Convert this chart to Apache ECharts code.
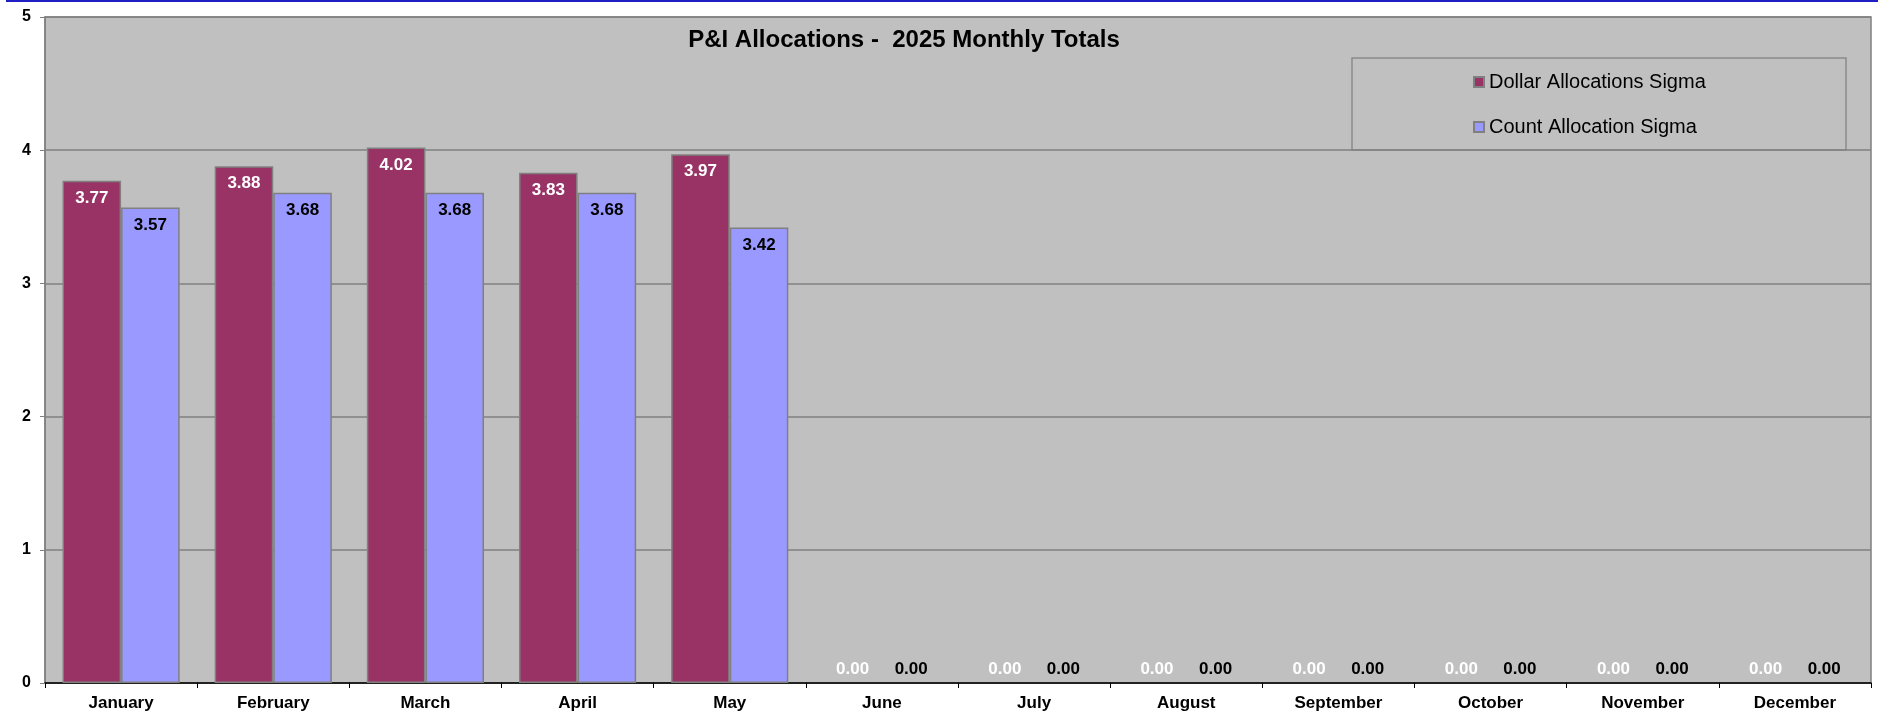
<!DOCTYPE html>
<html>
<head>
<meta charset="utf-8">
<style>
html,body{margin:0;padding:0;background:#fff;}
#chart{width:1878px;height:714px;}
</style>
<script src="https://cdn.jsdelivr.net/npm/echarts@6/dist/echarts.min.js"></script>
</head>
<body>
<div id="chart"></div>
<script>
const months = ['January','February','March','April','May','June','July','August','September','October','November','December'];
const dollarSigma = [3.77, 3.88, 4.02, 3.83, 3.97, 0, 0, 0, 0, 0, 0, 0];
const countSigma = [3.57, 3.68, 3.68, 3.68, 3.42, 0, 0, 0, 0, 0, 0, 0];
const yTicks = [0, 1, 2, 3, 4, 5];
const titleText = 'P&I Allocations -  2025 Monthly Totals';
const seriesNames = ['Dollar Allocations Sigma', 'Count Allocation Sigma'];

const FONT = '"Liberation Sans", Arial, sans-serif';

function toData(values, labelColor) {
  return values.map(v => v === 0
    ? { value: v, itemStyle: { borderWidth: 0 }, label: { position: 'top', distance: 5, color: labelColor } }
    : { value: v });
}

const chart = echarts.init(document.getElementById('chart'), null, { renderer: 'canvas' });

chart.setOption({
  backgroundColor: '#ffffff',
  animation: false,
  grid: {
    left: 45, right: 7, top: 17, bottom: 31,
    show: true, backgroundColor: '#c0c0c0', borderColor: '#808080', borderWidth: 1.5
  },
  legend: {
    orient: 'vertical',
    left: 1473, top: 72,
    padding: 0,
    itemGap: 25,
    itemWidth: 10, itemHeight: 10,
    icon: 'rect',
    textStyle: { fontFamily: FONT, fontSize: 20, color: '#000' },
    data: seriesNames
  },
  graphic: [
    { type: 'line', shape: { x1: 6, y1: 1, x2: 1878, y2: 1 }, style: { stroke: '#1f1fc4', lineWidth: 2 }, z: 100 },
    { type: 'rect', shape: { x: 1352, y: 58, width: 494, height: 92 }, style: { fill: 'none', stroke: '#8a8a8a', lineWidth: 1.5 }, z: 0 },
    { type: 'text', x: 904, y: 40, style: { text: titleText, textAlign: 'center', textVerticalAlign: 'middle', font: 'bold 24px ' + FONT, fill: '#000' }, z: 100 }
  ],
  xAxis: {
    type: 'category',
    data: months,
    axisLine: { lineStyle: { color: '#000', width: 1.5 } },
    axisTick: { show: true, alignWithLabel: false, length: 5, lineStyle: { color: '#000' } },
    axisLabel: { interval: 0, margin: 12, fontFamily: FONT, fontSize: 17, fontWeight: 'bold', color: '#000' }
  },
  yAxis: {
    type: 'value',
    min: yTicks[0], max: yTicks[yTicks.length - 1], interval: 1,
    axisLine: { show: true, lineStyle: { color: '#808080', width: 1.5 } },
    axisTick: { show: true, length: 5, lineStyle: { color: '#808080' } },
    splitLine: { show: true, lineStyle: { color: '#808080', width: 1.5 } },
    axisLabel: { margin: 14, fontFamily: FONT, fontSize: 16, fontWeight: 'bold', color: '#000' }
  },
  series: [
    {
      name: seriesNames[0], type: 'bar',
      data: toData(dollarSigma, '#ffffff'),
      barGap: '0%', barCategoryGap: '23%',
      itemStyle: { color: '#993366', borderColor: '#808080', borderWidth: 1.5 },
      label: { show: true, position: 'insideTop', distance: 9, color: '#ffffff', fontFamily: FONT, fontSize: 17, fontWeight: 'bold', formatter: p => p.value.toFixed(2) }
    },
    {
      name: seriesNames[1], type: 'bar',
      data: toData(countSigma, '#000000'),
      barGap: '0%', barCategoryGap: '23%',
      itemStyle: { color: '#9999ff', borderColor: '#808080', borderWidth: 1.5 },
      label: { show: true, position: 'insideTop', distance: 9, color: '#000000', fontFamily: FONT, fontSize: 17, fontWeight: 'bold', formatter: p => p.value.toFixed(2) }
    }
  ]
});
</script>
</body>
</html>
